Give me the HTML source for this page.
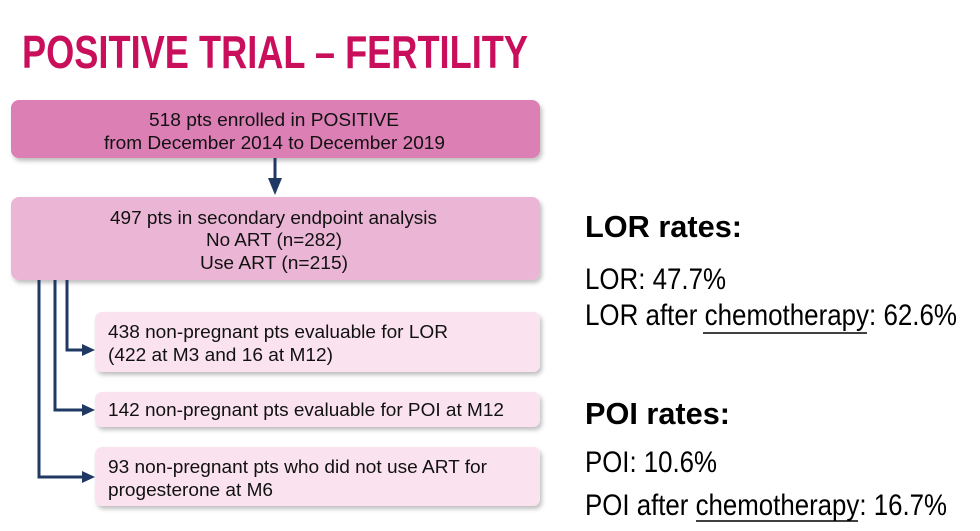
<!DOCTYPE html>
<html><head><meta charset="utf-8"><style>
html,body{margin:0;padding:0;background:#fff;}
svg{display:block;}
text{font-family:"Liberation Sans",Arial,sans-serif;}
</style></head><body>
<svg width="980" height="531" viewBox="0 0 980 531" xmlns="http://www.w3.org/2000/svg">
<defs>
<filter id="sh" x="-5%" y="-10%" width="110%" height="130%">
<feDropShadow dx="2" dy="3" stdDeviation="2" flood-color="#000" flood-opacity="0.25"/>
</filter>
</defs>
<text x="22" y="68" font-size="46" font-weight="bold" fill="#c90f5c" textLength="506" lengthAdjust="spacingAndGlyphs">POSITIVE TRIAL – FERTILITY</text>

<rect x="11" y="100" width="529" height="58" rx="8" fill="#db7fb5" filter="url(#sh)"/>
<rect x="11" y="197" width="529" height="83" rx="8" fill="#ebb6d6" filter="url(#sh)"/>
<rect x="95" y="312" width="445" height="60" rx="7" fill="#fae3ef" filter="url(#sh)"/>
<rect x="95" y="392" width="445" height="35" rx="7" fill="#fae3ef" filter="url(#sh)"/>
<rect x="95" y="447" width="445" height="59" rx="7" fill="#fae3ef" filter="url(#sh)"/>

<g stroke="#1f3864" stroke-width="3" fill="none">
<line x1="275" y1="158" x2="275" y2="180"/>
<polyline points="67,280 67,350 84,350"/>
<polyline points="55,280 55,410 84,410"/>
<polyline points="39,280 39,477 84,477"/>
</g>
<g fill="#1f3864">
<polygon points="268,178 282,178 275,195"/>
<polygon points="82,344 82,356 95,350"/>
<polygon points="82,404 82,416 95,410"/>
<polygon points="82,471 82,483 95,477"/>
</g>

<g font-size="18" fill="#111">
<text x="149" y="126" textLength="250" lengthAdjust="spacingAndGlyphs">518 pts enrolled in POSITIVE</text>
<text x="104" y="149" textLength="341" lengthAdjust="spacingAndGlyphs">from December 2014 to December 2019</text>
<text x="110" y="224" textLength="327" lengthAdjust="spacingAndGlyphs">497 pts in secondary endpoint analysis</text>
<text x="206" y="246" textLength="136" lengthAdjust="spacingAndGlyphs">No ART (n=282)</text>
<text x="200" y="269" textLength="148" lengthAdjust="spacingAndGlyphs">Use ART (n=215)</text>
<text x="108" y="338" textLength="340" lengthAdjust="spacingAndGlyphs">438 non-pregnant pts evaluable for LOR</text>
<text x="108" y="361" textLength="225" lengthAdjust="spacingAndGlyphs">(422 at M3 and 16 at M12)</text>
<text x="108" y="416" textLength="396" lengthAdjust="spacingAndGlyphs">142 non-pregnant pts evaluable for POI at M12</text>
<text x="108" y="473" textLength="379" lengthAdjust="spacingAndGlyphs">93 non-pregnant pts who did not use ART for</text>
<text x="108" y="496" textLength="165" lengthAdjust="spacingAndGlyphs">progesterone at M6</text>
</g>

<g fill="#000">
<text x="585" y="237" font-size="31" font-weight="bold" textLength="157" lengthAdjust="spacingAndGlyphs">LOR rates:</text>
<text x="585" y="289" font-size="30" textLength="141" lengthAdjust="spacingAndGlyphs">LOR: 47.7%</text>
<text x="585" y="325" font-size="30" textLength="372" lengthAdjust="spacingAndGlyphs">LOR after chemotherapy: 62.6%</text>
<text x="585" y="424" font-size="31" font-weight="bold" textLength="145" lengthAdjust="spacingAndGlyphs">POI rates:</text>
<text x="585" y="472" font-size="30" textLength="132" lengthAdjust="spacingAndGlyphs">POI: 10.6%</text>
<text x="585" y="515" font-size="30" textLength="362" lengthAdjust="spacingAndGlyphs">POI after chemotherapy: 16.7%</text>
<line x1="703" y1="333" x2="867" y2="333" stroke="#000" stroke-width="1.5"/>
<line x1="696" y1="521" x2="858" y2="521" stroke="#000" stroke-width="1.5"/>
</g>
</svg>
</body></html>
